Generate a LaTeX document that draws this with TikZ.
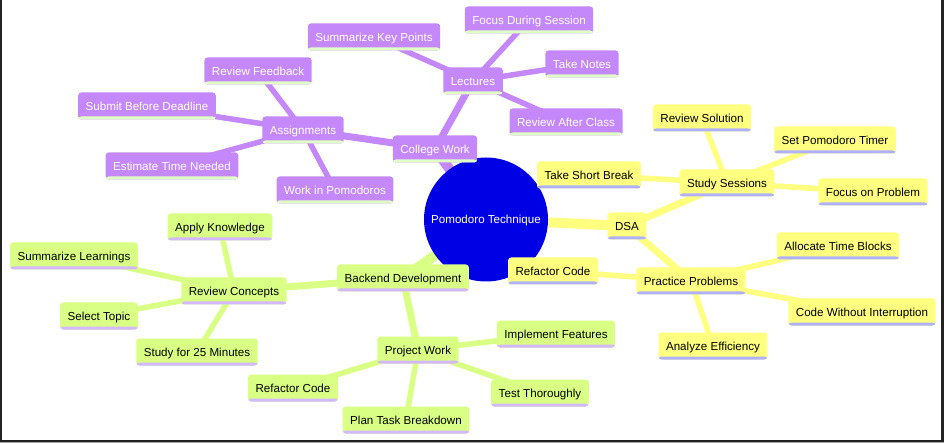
\documentclass[tikz,border=0pt]{standalone}
\usepackage{fontspec}
\setmainfont{Liberation Sans}
\definecolor{purp}{RGB}{196,136,250}
\definecolor{purpline}{RGB}{224,255,196}
\definecolor{yel}{RGB}{255,255,128}
\definecolor{yelline}{RGB}{176,176,255}
\definecolor{grn}{RGB}{217,255,133}
\definecolor{grnline}{RGB}{212,184,255}
\definecolor{rootblue}{RGB}{0,0,228}
\definecolor{frame}{RGB}{34,34,34}
\pgfdeclarelayer{edges}
\pgfsetlayers{edges,main}
\begin{document}
\begin{tikzpicture}[x=1pt,y=-1pt,
  mm/.style={rectangle, rounded corners=3pt, minimum height=27pt, inner xsep=7.5pt, inner ysep=0pt,
    font=\fontsize{11.6}{13}\selectfont, text height=8.3pt, text depth=0pt},
  pn/.style={mm, fill=purp, text=white, path picture={\fill[purpline] ([yshift=3pt]path picture bounding box.south west) rectangle (path picture bounding box.south east);}},
  yn/.style={mm, fill=yel, text=black, path picture={\fill[yelline] ([yshift=3pt]path picture bounding box.south west) rectangle (path picture bounding box.south east);}},
  gn/.style={mm, fill=grn, text=black, path picture={\fill[grnline] ([yshift=3pt]path picture bounding box.south west) rectangle (path picture bounding box.south east);}},
  rootnode/.style={circle, fill=rootblue, text=white, minimum size=124pt, inner sep=0pt,
    font=\fontsize{11.6}{13}\selectfont, text height=8.3pt, text depth=0pt},
  eone/.style={line width=10pt},
  etwo/.style={line width=7pt},
  ethree/.style={line width=5.5pt}
]
\path[use as bounding box] (0,0) rectangle (944,443);

% root
\node[rootnode] (root) at (486,219.5) {Pomodoro Technique};

% College Work branch
\node[pn] (cw) at (435,149) {College Work};
\node[pn] (lec) at (473,81) {Lectures};
\node[pn] (fds) at (529,20) {Focus During Session};
\node[pn] (skp) at (374,37) {Summarize Key Points};
\node[pn] (tn) at (582,64) {Take Notes};
\node[pn] (rac) at (566,122) {Review After Class};
\node[pn] (asg) at (303,130) {Assignments};
\node[pn] (rf) at (258,71) {Review Feedback};
\node[pn] (sbd) at (147,106) {Submit Before Deadline};
\node[pn] (etn) at (172,166) {Estimate Time Needed};
\node[pn] (wip) at (335,190) {Work in Pomodoros};

% DSA branch
\node[yn] (dsa) at (627,226) {DSA};
\node[yn] (ss) at (727,183) {Study Sessions};
\node[yn] (rs) at (702,118) {Review Solution};
\node[yn] (spt) at (835,140) {Set Pomodoro Timer};
\node[yn] (fop) at (873,192) {Focus on Problem};
\node[yn] (tsb) at (589,175) {Take Short Break};
\node[yn] (pp) at (691,281) {Practice Problems};
\node[yn] (rcy) at (553,271) {Refactor Code};
\node[yn] (atb) at (838,246) {Allocate Time Blocks};
\node[yn] (cwi) at (862,312) {Code Without Interruption};
\node[yn] (ae) at (713,346) {Analyze Efficiency};

% Backend branch
\node[gn] (bd) at (403,278) {Backend Development};
\node[gn] (rc) at (234,291) {Review Concepts};
\node[gn] (ak) at (220,227) {Apply Knowledge};
\node[gn] (sl) at (74,256) {Summarize Learnings};
\node[gn] (st) at (99,316) {Select Topic};
\node[gn] (s25) at (197,352) {Study for 25 Minutes};
\node[gn] (pw) at (418,350) {Project Work};
\node[gn] (impf) at (556,334) {Implement Features};
\node[gn] (tt) at (540,393) {Test Thoroughly};
\node[gn] (ptb) at (406,420) {Plan Task Breakdown};
\node[gn] (rcg) at (293,388) {Refactor Code};

\begin{pgfonlayer}{edges}
  \fill[white] (0,0) rectangle (944,443);
  % root edges
  \draw[eone, purp] (root.center) -- (cw.center);
  \draw[eone, yel] (root.center) -- (dsa.center);
  \draw[eone, grn] (root.center) -- (bd.center);
  % purple
  \draw[etwo, purp] (cw.center) -- (lec.center);
  \draw[etwo, purp] (cw.center) -- (asg.center);
  \foreach \t in {fds,skp,tn,rac} \draw[ethree, purp] (lec.center) -- (\t.center);
  \foreach \t in {rf,sbd,etn,wip} \draw[ethree, purp] (asg.center) -- (\t.center);
  % yellow
  \draw[etwo, yel] (dsa.center) -- (ss.center);
  \draw[etwo, yel] (dsa.center) -- (pp.center);
  \foreach \t in {rs,spt,fop,tsb} \draw[ethree, yel] (ss.center) -- (\t.center);
  \foreach \t in {rcy,atb,cwi,ae} \draw[ethree, yel] (pp.center) -- (\t.center);
  % green
  \draw[etwo, grn] (bd.center) -- (rc.center);
  \draw[etwo, grn] (bd.center) -- (pw.center);
  \foreach \t in {ak,sl,st,s25} \draw[ethree, grn] (rc.center) -- (\t.center);
  \foreach \t in {impf,tt,ptb,rcg} \draw[ethree, grn] (pw.center) -- (\t.center);
\end{pgfonlayer}

% frame
\fill[frame] (0,0) rectangle (2,441.5);
\fill[frame] (941,0) rectangle (944,441.5);
\fill[frame] (0,439.5) rectangle (944,441.5);
\fill[black!35] (0,441.5) rectangle (944,443);
\end{tikzpicture}
\end{document}
